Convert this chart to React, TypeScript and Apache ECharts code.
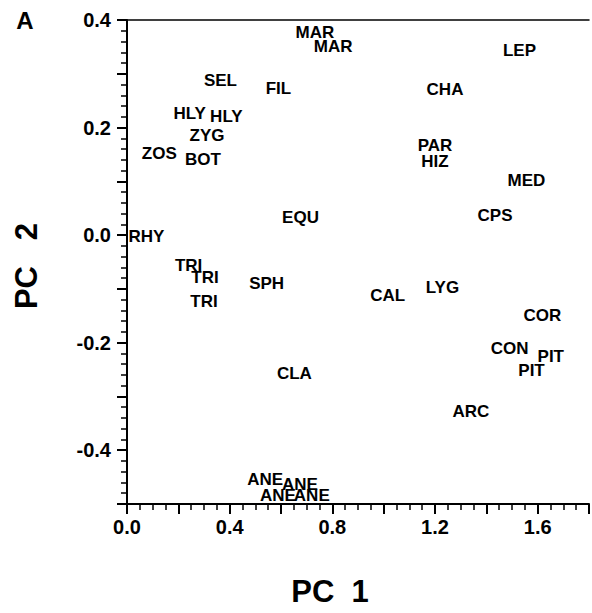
import React, { useEffect, useRef } from "react";
import * as echarts from "echarts";

// Taxon codes plotted as text labels
const taxa = [
  "MAR", "MAR", "SEL", "FIL", "LEP", "CHA", "HLY", "HLY", "ZYG", "ZOS", "BOT",
  "PAR", "HIZ", "MED", "CPS", "EQU", "RHY", "TRI", "TRI", "TRI", "SPH", "LYG",
  "CAL", "COR", "CON", "PIT", "PIT", "CLA", "ARC", "ANE", "ANE", "ANE", "ANE",
];
// PC 1 scores
const pc1 = [
  0.732, 0.803, 0.364, 0.590, 1.529, 1.239, 0.244, 0.387, 0.312, 0.126, 0.296,
  1.200, 1.200, 1.556, 1.434, 0.676, 0.076, 0.240, 0.304, 0.300, 0.544, 1.229,
  1.016, 1.618, 1.491, 1.651, 1.576, 0.652, 1.340, 0.538, 0.674, 0.588, 0.720,
];
// PC 2 scores
const pc2 = [
  0.376, 0.350, 0.287, 0.273, 0.343, 0.271, 0.226, 0.220, 0.186, 0.152, 0.140,
  0.167, 0.136, 0.102, 0.037, 0.032, -0.002, -0.056, -0.079, -0.123, -0.090, -0.097,
  -0.113, -0.150, -0.211, -0.226, -0.252, -0.258, -0.328, -0.455, -0.463, -0.485, -0.485,
];
// Labelled tick values
const xTickLabels = [0.0, 0.4, 0.8, 1.2, 1.6];
const yTickLabels = [-0.4, -0.2, 0.0, 0.2, 0.4];

const FONT = "'Liberation Sans', Arial, Helvetica, sans-serif";

function isLabelled(v: number, list: number[]) {
  return list.some((t) => Math.abs(t - v) < 1e-6);
}

export default function App() {
  const ref = useRef<HTMLDivElement>(null);

  useEffect(() => {
    if (!ref.current) return;
    const chart = echarts.init(ref.current, undefined, { renderer: "svg" });
    const data = taxa.map((n, i) => ({ name: n, value: [pc1[i], pc2[i]] }));
    chart.setOption({
      animation: false,
      backgroundColor: "#ffffff",
      grid: { left: 127, right: 0, top: 20, bottom: 109, containLabel: false },
      xAxis: [
        {
          type: "value",
          min: 0,
          max: 1.8,
          interval: 0.2,
          position: "bottom",
          axisLine: { show: true, onZero: false, lineStyle: { color: "#000", width: 2 } },
          axisTick: { show: true, inside: false, length: 10, lineStyle: { color: "#000", width: 2 } },
          minorTick: { show: true, splitNumber: 4, length: 6, lineStyle: { color: "#000", width: 1.5 } },
          splitLine: { show: false },
          minorSplitLine: { show: false },
          axisLabel: {
            margin: 13,
            color: "#000",
            fontFamily: FONT,
            fontWeight: "bold",
            fontSize: 20,
            formatter: (v: number) => (isLabelled(v, xTickLabels) ? v.toFixed(1) : ""),
          },
        },
        {
          type: "value",
          min: 0,
          max: 1.8,
          position: "top",
          axisLine: { show: true, onZero: false, lineStyle: { color: "#000", width: 1.5 } },
          axisTick: { show: false },
          axisLabel: { show: false },
          splitLine: { show: false },
        },
      ],
      yAxis: {
        type: "value",
        min: -0.5,
        max: 0.4,
        interval: 0.1,
        axisLine: { show: true, onZero: false, lineStyle: { color: "#000", width: 2 } },
        axisTick: { show: true, inside: false, length: 10, lineStyle: { color: "#000", width: 2 } },
        minorTick: { show: true, splitNumber: 5, length: 6, lineStyle: { color: "#000", width: 1.5 } },
        splitLine: { show: false },
        minorSplitLine: { show: false },
        axisLabel: {
          margin: 16,
          color: "#000",
          fontFamily: FONT,
          fontWeight: "bold",
          fontSize: 20,
          formatter: (v: number) => (isLabelled(v, yTickLabels) ? v.toFixed(1) : ""),
        },
      },
      series: [
        {
          type: "scatter",
          xAxisIndex: 0,
          symbol: "circle",
          symbolSize: 0,
          itemStyle: { color: "#000", opacity: 1 },
          data,
          label: {
            show: true,
            position: "inside",
            formatter: (p: any) => p.name,
            color: "#000",
            opacity: 1,
            textBorderWidth: 0,
            fontFamily: FONT,
            fontWeight: "bold",
            fontSize: 17,
          },
        },
      ],
      graphic: [
        {
          type: "text",
          x: 25,
          y: 20,
          style: {
            text: "A",
            fill: "#000",
            font: `bold 24px ${FONT}`,
            align: "center",
            verticalAlign: "middle",
          },
        },
        {
          type: "text",
          x: 330,
          y: 591,
          style: {
            text: "PC  1",
            fill: "#000",
            font: `bold 31px ${FONT}`,
            align: "center",
            verticalAlign: "middle",
          },
        },
        {
          type: "text",
          x: 26,
          y: 266,
          rotation: Math.PI / 2,
          style: {
            text: "PC   2",
            fill: "#000",
            font: `bold 31px ${FONT}`,
            align: "center",
            verticalAlign: "middle",
          },
        },
      ],
    });
    return () => chart.dispose();
  }, []);

  return (
    <div
      ref={ref}
      style={{ position: "absolute", left: 0, top: 0, width: 592, height: 613 }}
    />
  );
}
